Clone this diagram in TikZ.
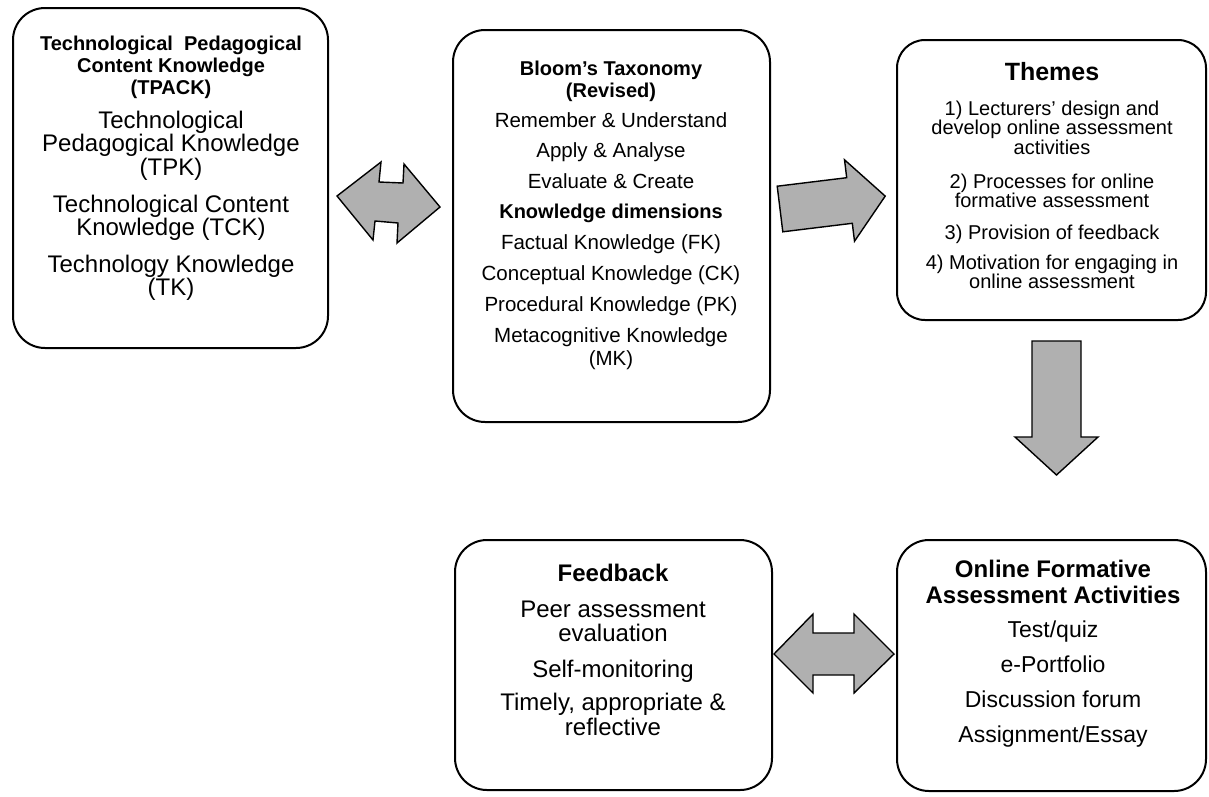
\documentclass[tikz,border=0pt]{standalone}
\usepackage{fontspec}
\setmainfont{Liberation Sans}
\definecolor{arrowfill}{RGB}{176,176,176}
\begin{document}
\begin{tikzpicture}[x=1pt,y=-1pt,
  panel/.style={draw=black, line width=2pt, rounded corners=32pt, inner sep=0pt},
  blockarrow/.style={draw=black, line width=1.4pt, fill=arrowfill, line join=miter},
  ln/.style={anchor=base, inner sep=0pt, text=black},
  tphead/.style={ln, font=\fontsize{20}{20}\selectfont\bfseries},
  tpbody/.style={ln, font=\fontsize{24}{24}\selectfont},
  blhead/.style={ln, font=\fontsize{20}{20}\selectfont\bfseries},
  blbody/.style={ln, font=\fontsize{20.5}{20}\selectfont},
  thhead/.style={ln, font=\fontsize{25}{25}\selectfont\bfseries},
  thbody/.style={ln, font=\fontsize{20}{20}\selectfont},
  fbhead/.style={ln, font=\fontsize{24}{24}\selectfont\bfseries},
  fbbody/.style={ln, font=\fontsize{24}{24}\selectfont},
  onhead/.style={ln, font=\fontsize{24}{24}\selectfont\bfseries},
  onbody/.style={ln, font=\fontsize{23}{23}\selectfont}]
\useasboundingbox (0,0) rectangle (1209,796);

% rounded panels
\node[panel, minimum width=315pt, minimum height=340pt] (tpack) at (170.5,178) {};
\node[panel, minimum width=317pt, minimum height=392pt] (bloom) at (611.5,226) {};
\node[panel, minimum width=309pt, minimum height=280pt, rounded corners=28pt] (themes) at (1051.5,180) {};
\node[panel, minimum width=317pt, minimum height=250pt] (feedback) at (613.5,665) {};
\node[panel, minimum width=309pt, minimum height=251pt] (online) at (1051.5,665.5) {};

% TPACK panel
\node[tphead] (tp1) at (171,50) {Technological\ \ Pedagogical};
\node[tphead] (tp2) at (171,72) {Content Knowledge};
\node[tphead] (tp3) at (171,94) {(TPACK)};
\node[tpbody] (tp4) at (171,128) {Technological};
\node[tpbody] (tp5) at (171,151.5) {Pedagogical Knowledge};
\node[tpbody] (tp6) at (171,175) {(TPK)};
\node[tpbody] (tp7) at (171,212) {Technological Content};
\node[tpbody] (tp8) at (171,235.5) {Knowledge (TCK)};
\node[tpbody] (tp9) at (171,272) {Technology Knowledge};
\node[tpbody] (tp10) at (171,295.5) {(TK)};

% Bloom panel
\node[blhead] (bl1) at (611,75) {Bloom’s Taxonomy};
\node[blhead] (bl2) at (611,97) {(Revised)};
\node[blbody] (bl3) at (611,127) {Remember \& Understand};
\node[blbody] (bl4) at (611,157.5) {Apply \& Analyse};
\node[blbody] (bl5) at (611,188) {Evaluate \& Create};
\node[blhead] (bl6) at (611,218.5) {Knowledge dimensions};
\node[blbody] (bl7) at (611,249) {Factual Knowledge (FK)};
\node[blbody] (bl8) at (611,280) {Conceptual Knowledge (CK)};
\node[blbody] (bl9) at (611,311) {Procedural Knowledge (PK)};
\node[blbody] (bl10) at (611,342) {Metacognitive Knowledge};
\node[blbody] (bl11) at (611,365) {(MK)};

% Themes panel
\node[thhead] (th1) at (1052,80) {Themes};
\node[thbody] (th2) at (1052,115) {1) Lecturers’ design and};
\node[thbody] (th3) at (1052,134.5) {develop online assessment};
\node[thbody] (th4) at (1052,154) {activities};
\node[thbody] (th5) at (1052,188) {2) Processes for online};
\node[thbody] (th6) at (1052,207.5) {formative assessment};
\node[thbody] (th7) at (1052,239) {3) Provision of feedback};
\node[thbody] (th8) at (1052,269) {4) Motivation for engaging in};
\node[thbody] (th9) at (1052,288.5) {online assessment};

% Feedback panel
\node[fbhead] (fb1) at (613,581) {Feedback};
\node[fbbody] (fb2) at (613,617) {Peer assessment};
\node[fbbody] (fb3) at (613,641) {evaluation};
\node[fbbody] (fb4) at (613,677) {Self-monitoring};
\node[fbbody] (fb5) at (613,710) {Timely, appropriate \&};
\node[fbbody] (fb6) at (613,735) {reflective};

% Online activities panel
\node[onhead] (on1) at (1053,577) {Online Formative};
\node[onhead] (on2) at (1053,603) {Assessment Activities};
\node[onbody] (on3) at (1053,637) {Test/quiz};
\node[onbody] (on4) at (1053,672) {e-Portfolio};
\node[onbody] (on5) at (1053,707) {Discussion forum};
\node[onbody] (on6) at (1053,742) {Assignment/Essay};

% block arrows between the panels
\draw[blockarrow] (337,196) -- (381,162) -- (379,182) -- (403,183) -- (404,164)
  -- (440,207) -- (397,243) -- (398,223) -- (375,221) -- (373,240) -- cycle;
\draw[blockarrow] (777.2,186.2) -- (846.7,177.7) -- (844.5,159.8) -- (885.2,196.1)
  -- (854.5,241.2) -- (852.3,223.3) -- (782.8,231.8) -- cycle;
\draw[blockarrow] (1032,341) -- (1081,341) -- (1081,437) -- (1098,437)
  -- (1056.5,475) -- (1015,437) -- (1032,437) -- cycle;
\draw[blockarrow] (774,654) -- (813,614) -- (813,633) -- (854,633) -- (854,614)
  -- (894,654) -- (854,693) -- (854,675) -- (813,675) -- (813,693) -- cycle;
\end{tikzpicture}
\end{document}
